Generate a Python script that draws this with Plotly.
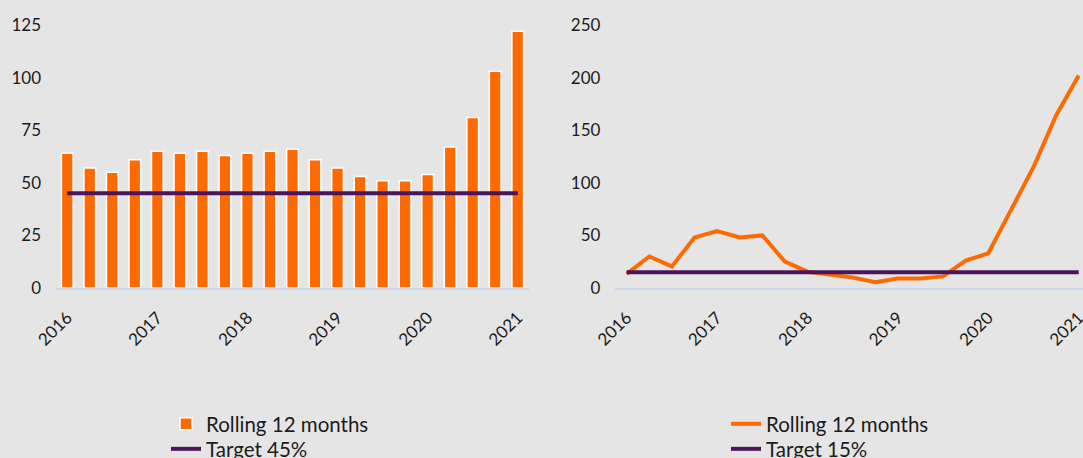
import plotly.graph_objects as go

quarters = [f"{y} Q{q}" for y in range(2016, 2021) for q in range(1, 5)] + ["2021 Q1"]
year_ticks = ["2016 Q1", "2017 Q1", "2018 Q1", "2019 Q1", "2020 Q1", "2021 Q1"]
year_labels = ["2016", "2017", "2018", "2019", "2020", "2021"]

left_values = [64, 57, 55, 61, 65, 64, 65, 63, 64, 65, 66, 61, 57, 53, 51, 51, 54, 67, 81, 103, 122]
left_target = 45

right_values = [13.5, 30, 20.5, 48, 54, 48, 50, 25, 15.5, 13, 10, 5.5, 9, 9, 11, 26, 33, 74, 115, 164, 202]
right_target = 15

ORANGE = "#ff6a00"
PURPLE = "#4a1559"
BG = "#e5e5e5"
AXIS = "#cdd7ea"
FONT = "Lato"
TXT = "#1c1c1c"

fig = go.Figure()

fig.add_trace(go.Bar(
    x=quarters, y=left_values, name="Rolling 12 months",
    marker=dict(color=ORANGE, line=dict(color="white", width=1.5)),
    width=0.52, xaxis="x", yaxis="y", legend="legend",
))
fig.add_trace(go.Scatter(
    x=[quarters[0], quarters[-1]], y=[left_target, left_target], name="Target 45%",
    mode="lines", line=dict(color=PURPLE, width=4), xaxis="x", yaxis="y", legend="legend2",
))

fig.add_trace(go.Scatter(
    x=quarters, y=right_values, name="Rolling 12 months",
    mode="lines", line=dict(color=ORANGE, width=4), xaxis="x2", yaxis="y2", legend="legend3",
))
fig.add_trace(go.Scatter(
    x=[quarters[0], quarters[-1]], y=[right_target, right_target], name="Target 15%",
    mode="lines", line=dict(color=PURPLE, width=4), xaxis="x2", yaxis="y2", legend="legend4",
))

W, H = 1083, 458
ydom = [1 - 288 / H, 1 - 25 / H]

xcommon = dict(
    type="category", categoryorder="array", categoryarray=quarters,
    tickvals=year_ticks, ticktext=year_labels, tickangle=-45,
    showgrid=False, zeroline=False, showline=True, linecolor=AXIS, linewidth=2,
    ticks="", ticklabelstandoff=11, automargin=False,
    tickfont=dict(family=FONT, size=17, color=TXT),
)
ycommon = dict(
    showgrid=False, zeroline=False, showline=False, ticks="", automargin=False,
    ticklabelstandoff=14, tickfont=dict(family=FONT, size=17, color=TXT),
)


def leg(xpx, ypx):
    return dict(x=xpx / W, y=1 - ypx / H, xanchor="left", yanchor="middle",
                bgcolor="rgba(0,0,0,0)", borderwidth=0,
                font=dict(family=FONT, size=20.5, color=TXT))


fig.update_layout(
    width=W, height=H,
    paper_bgcolor=BG, plot_bgcolor=BG,
    margin=dict(l=0, r=0, t=0, b=0, autoexpand=False),
    font=dict(family=FONT, size=17, color=TXT),
    xaxis=dict(domain=[56 / W, 529 / W], range=[-0.5, 20.5], anchor="y", **xcommon),
    yaxis=dict(domain=ydom, range=[0, 125], tickvals=[0, 25, 50, 75, 100, 125], anchor="x", **ycommon),
    xaxis2=dict(domain=[615.4 / W, 1.0], range=[-0.5, 20.19], anchor="y2", **xcommon),
    yaxis2=dict(domain=ydom, range=[0, 250], tickvals=[0, 50, 100, 150, 200, 250], anchor="x2", **ycommon),
    legend=leg(166, 424),
    legend2=leg(166, 449),
    legend3=leg(726, 424),
    legend4=leg(726, 449),
    showlegend=True,
)

fig.write_html(
    "out.html",
    config={"displayModeBar": False},
    post_script="document.body.style.margin='0';document.body.style.background='#e5e5e5';",
)
